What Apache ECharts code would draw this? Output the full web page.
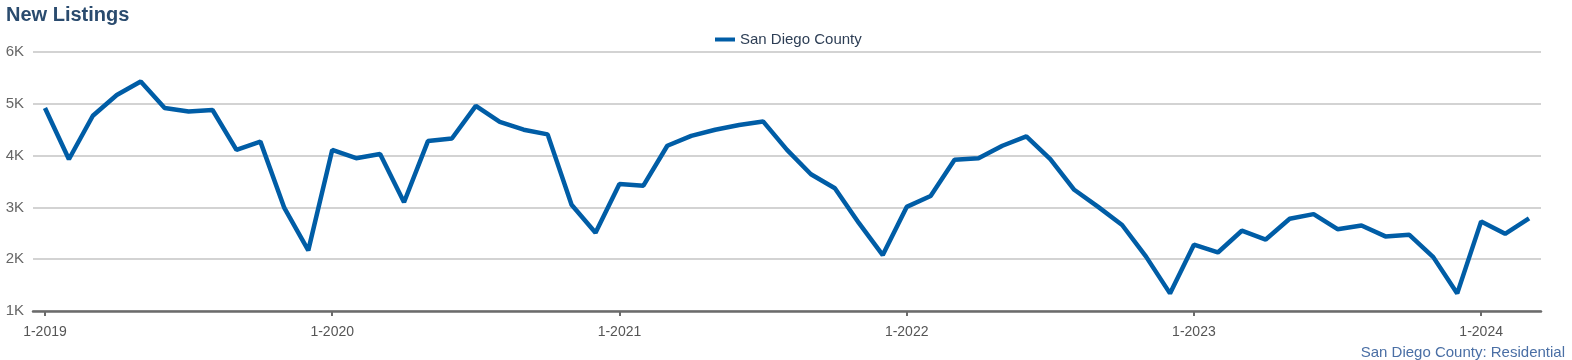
<!DOCTYPE html>
<html><head><meta charset="utf-8">
<script src="https://cdn.jsdelivr.net/npm/echarts@6/dist/echarts.min.js"></script>
<style>html,body{margin:0;padding:0;background:#fff}#c{width:1572px;height:360px}</style>
</head><body><div id="c"></div>
<script>
const years = [2019, 2020, 2021, 2022, 2023, 2024];
const monthsInLastYear = 3;
const seriesName = 'San Diego County';
const values = [
  4920, 3930, 4770, 5170, 5430, 4920, 4850, 4880, 4110, 4270, 2990, 2170,
  4110, 3950, 4030, 3100, 4280, 4330, 4960, 4650, 4500, 4410, 3050, 2510,
  3450, 3420, 4190, 4380, 4500, 4590, 4660, 4110, 3640, 3370, 2700, 2080,
  3010, 3220, 3920, 3950, 4190, 4370, 3930, 3340, 3010, 2660, 2050, 1340,
  2280, 2130, 2550, 2380, 2780, 2870, 2580, 2650, 2440, 2470, 2040, 1340,
  2730, 2490, 2790
];
const yTicks = [1000, 2000, 3000, 4000, 5000, 6000];
const categories = [];
years.forEach((y, i) => {
  const n = i === years.length - 1 ? monthsInLastYear : 12;
  for (let m = 1; m <= n; m++) categories.push(m + '-' + y);
});
const chart = echarts.init(document.getElementById('c'));
const font = '"Liberation Sans", Arial, sans-serif';
chart.setOption({
  animation: false,
  textStyle: { fontFamily: font },
  title: [
    { text: 'New Listings', left: 1, top: 0, textStyle: { fontFamily: font, fontSize: 20, fontWeight: 'bold', color: '#2A4B6E' } },
    { text: 'San Diego County: Residential', right: 2, top: 340, textStyle: { fontFamily: font, fontSize: 15, fontWeight: 'normal', color: '#4A6FA5' } }
  ],
  legend: {
    top: 27, left: 710, itemWidth: 20, itemHeight: 4, icon: 'rect', itemGap: 10,
    textStyle: { fontFamily: font, fontSize: 15, color: '#2D3E55' },
    data: [seriesName]
  },
  grid: { left: 33, right: 31, top: 52, bottom: 49, containLabel: false },
  xAxis: {
    type: 'category', data: categories, boundaryGap: true,
    axisLine: { lineStyle: { color: '#6B6B6B', width: 2.5 } },
    axisTick: { show: true, alignWithLabel: true, interval: (i) => i % 12 === 0, length: 5, lineStyle: { color: '#6B6B6B', width: 2 } },
    axisLabel: { show: true, interval: (i) => i % 12 === 0, color: '#555', fontSize: 14, margin: 14, fontFamily: font }
  },
  yAxis: {
    type: 'value', min: yTicks[0], max: yTicks[yTicks.length - 1], interval: 1000,
    axisLine: { show: false }, axisTick: { show: false },
    axisLabel: { color: '#666', fontSize: 15, margin: 9, fontFamily: font, formatter: (v) => (v / 1000) + 'K' },
    splitLine: { lineStyle: { color: '#C4C4C4', width: 1.5 } }
  },
  series: [{
    name: seriesName, type: 'line', data: values, symbol: 'none',
    lineStyle: { color: '#005DA6', width: 4.5 }, itemStyle: { color: '#005DA6' }
  }]
});
</script></body></html>
